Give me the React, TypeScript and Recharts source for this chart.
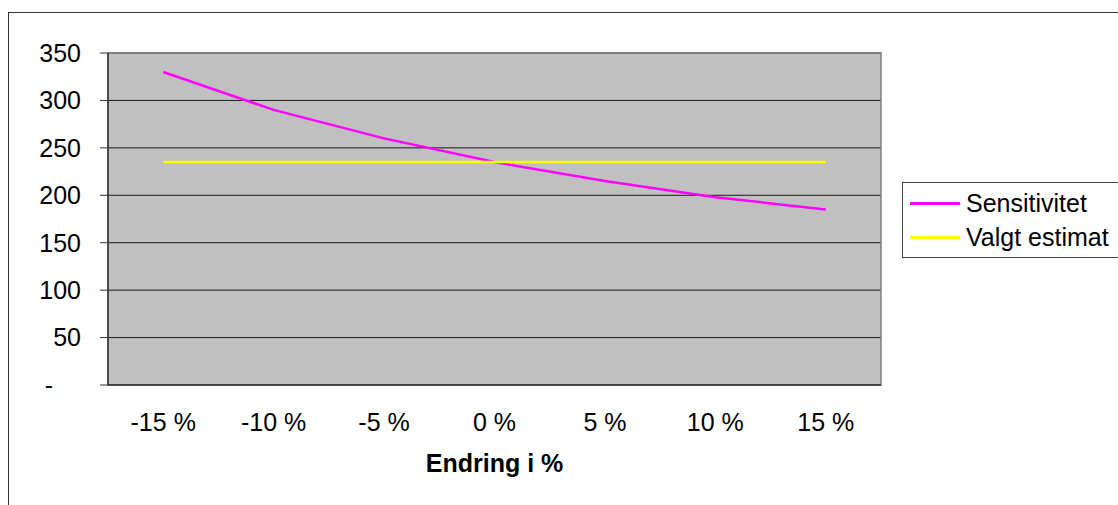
import React from 'react';
import {
  LineChart,
  Line,
  XAxis,
  YAxis,
  CartesianGrid,
  ReferenceArea,
  Legend,
} from 'recharts';

const categories = ['-15 %', '-10 %', '-5 %', '0 %', '5 %', '10 %', '15 %'];
const sensitivitet = [330, 290, 260, 235, 215, 198, 185];
const valgtEstimat = [235, 235, 235, 235, 235, 235, 235];
const yTicks = [0, 50, 100, 150, 200, 250, 300, 350];
const seriesNames = { sensitivitet: 'Sensitivitet', valgt: 'Valgt estimat' };
const xTitle = 'Endring i %';

const data = categories.map((label, i) => ({
  label,
  sensitivitet: sensitivitet[i],
  valgt: valgtEstimat[i],
}));

// boundaries between categories, where the small tick marks sit
const edgeTicks = categories.map((_, i) => i).concat(categories.length);

const FONT = '"Liberation Sans", Arial, sans-serif';
const TEXT_SIZE = 25;

function LegendBox({ payload }: any) {
  return (
    <div
      style={{
        border: '1px solid #444',
        background: '#fff',
        padding: '3px 0 3px 7px',
        width: 320,
        boxSizing: 'border-box',
      }}
    >
      {(payload || []).map((entry: any) => (
        <div
          key={entry.value}
          style={{ display: 'flex', alignItems: 'center', height: 34 }}
        >
          <span
            style={{
              display: 'inline-block',
              width: 50,
              height: 3,
              background: entry.color,
              marginRight: 6,
            }}
          />
          <span style={{ fontSize: TEXT_SIZE, color: '#000', fontFamily: FONT }}>
            {entry.value}
          </span>
        </div>
      ))}
    </div>
  );
}

export default function App() {
  return (
    <div
      style={{
        position: 'absolute',
        left: 0,
        top: 0,
        width: 1118,
        height: 505,
        overflow: 'hidden',
        background: '#fff',
        fontFamily: FONT,
      }}
    >
      <div
        style={{
          position: 'absolute',
          left: 8,
          top: 12,
          width: 1200,
          height: 600,
          border: '1px solid #333',
        }}
      />
      <LineChart
        width={1118}
        height={505}
        data={data}
        margin={{ top: 53, right: 237, left: 8, bottom: 20 }}
        style={{ position: 'absolute', left: 0, top: 0, overflow: 'visible' }}
      >
        <CartesianGrid
          vertical={false}
          fill="#c0c0c0"
          fillOpacity={1}
          stroke="#1a1a1a"
          strokeWidth={1}
          xAxisId="cat"
        />
        <ReferenceArea
          xAxisId="edge"
          y1={0}
          y2={350}
          fill="none"
          stroke="#808080"
          strokeWidth={1.5}
          ifOverflow="visible"
        />
        <XAxis
          xAxisId="edge"
          type="number"
          domain={[0, categories.length]}
          ticks={edgeTicks}
          allowDataOverflow
          tick={false}
          tickSize={7}
          height={0}
          axisLine={false}
          tickLine={{ stroke: '#333' }}
        />
        <XAxis
          xAxisId="cat"
          dataKey="label"
          scale="band"
          height={100}
          tickLine={false}
          tickSize={0}
          tickMargin={28}
          axisLine={{ stroke: '#333', strokeWidth: 1.5 }}
          tick={{ fontSize: TEXT_SIZE, fill: '#000', fontFamily: FONT }}
          label={{
            value: xTitle,
            position: 'insideBottom',
            offset: 13,
            style: { fontSize: TEXT_SIZE, fontWeight: 'bold', fill: '#000', fontFamily: FONT },
          }}
        />
        <YAxis
          domain={[0, 350]}
          ticks={yTicks}
          width={100}
          tickSize={8}
          tickMargin={19}
          axisLine={{ stroke: '#333', strokeWidth: 1.5 }}
          tickLine={{ stroke: '#333' }}
          tick={{ fontSize: TEXT_SIZE, fill: '#000', fontFamily: FONT }}
          tickFormatter={(v: number) => (v === 0 ? '-\u2007\u2007' : String(v))}
        />
        <Legend
          layout="vertical"
          align="center"
          verticalAlign="middle"
          content={<LegendBox />}
          wrapperStyle={{ left: 902, top: 182, width: 320 }}
        />
        <Line
          xAxisId="cat"
          type="linear"
          dataKey="sensitivitet"
          name={seriesNames.sensitivitet}
          stroke="#ff00ff"
          strokeWidth={2.5}
          dot={false}
          isAnimationActive={false}
        />
        <Line
          xAxisId="cat"
          type="linear"
          dataKey="valgt"
          name={seriesNames.valgt}
          stroke="#ffff00"
          strokeWidth={2.5}
          dot={false}
          isAnimationActive={false}
        />
      </LineChart>
    </div>
  );
}
